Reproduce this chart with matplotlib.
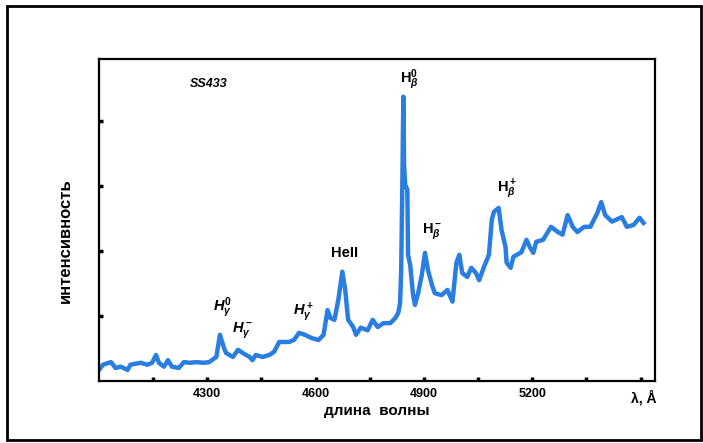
import matplotlib
matplotlib.use("Agg")
import matplotlib.pyplot as plt
from matplotlib.patches import Rectangle

# spectrum of SS433 (arbitrary intensity units)
wavelength = [4000, 4011, 4033, 4046, 4060, 4079, 4087, 4115, 4134, 4147,
              4158, 4166, 4180, 4191, 4202, 4221, 4235, 4251, 4270, 4289,
              4305, 4325, 4335, 4346, 4352, 4371, 4385, 4398, 4417, 4425,
              4434, 4453, 4472, 4485, 4499, 4513, 4526, 4540, 4554, 4570,
              4589, 4608, 4622, 4633, 4641, 4652, 4663, 4674, 4682, 4690,
              4704, 4712, 4725, 4744, 4758, 4772, 4788, 4807, 4821, 4829,
              4834, 4837, 4840, 4843, 4845, 4848, 4854, 4856, 4862, 4870,
              4875, 4884, 4894, 4903, 4911, 4922, 4930, 4949, 4965, 4979,
              4990, 4998, 5006, 5020, 5031, 5044, 5053, 5066, 5080, 5088,
              5094, 5107, 5115, 5126, 5129, 5140, 5148, 5170, 5184, 5194,
              5203, 5211, 5230, 5252, 5271, 5284, 5298, 5312, 5325, 5344,
              5361, 5380, 5391, 5402, 5421, 5448, 5462, 5481, 5497, 5508]
intensity = [0.17, 0.25, 0.29, 0.20, 0.22, 0.17, 0.25, 0.28, 0.25, 0.28,
             0.40, 0.28, 0.22, 0.32, 0.22, 0.20, 0.29, 0.28, 0.29, 0.28,
             0.29, 0.37, 0.71, 0.51, 0.43, 0.37, 0.48, 0.43, 0.37, 0.32,
             0.40, 0.37, 0.40, 0.45, 0.60, 0.60, 0.60, 0.63, 0.74, 0.71,
             0.66, 0.63, 0.71, 1.09, 0.97, 0.94, 1.25, 1.68, 1.40, 0.94,
             0.83, 0.71, 0.82, 0.78, 0.94, 0.83, 0.89, 0.89, 0.97, 1.05,
             1.20, 1.71, 2.94, 4.37, 3.32, 3.02, 2.94, 1.94, 1.78, 1.32,
             1.17, 1.35, 1.63, 1.97, 1.71, 1.48, 1.35, 1.32, 1.40, 1.22,
             1.82, 1.94, 1.66, 1.60, 1.74, 1.66, 1.55, 1.75, 1.94, 2.48,
             2.60, 2.66, 2.32, 2.06, 1.82, 1.74, 1.91, 1.98, 2.17, 2.05,
             1.97, 2.14, 2.17, 2.37, 2.29, 2.25, 2.55, 2.37, 2.29, 2.37,
             2.37, 2.58, 2.75, 2.55, 2.45, 2.52, 2.37, 2.40, 2.51, 2.43]

tick_positions = [4150, 4300, 4450, 4600, 4750, 4900, 5050, 5200, 5350, 5500]
tick_labels = ["", "4300", "", "4600", "", "4900", "", "5200", "", ""]
ytick_positions = [1, 2, 3, 4]

line_names = [r"$H_\gamma^0$", r"$H_\gamma^-$", r"$H_\gamma^+$", "HeII",
              r"$\mathrm{H}_\beta^0$", r"$\mathrm{H}_\beta^-$", r"$\mathrm{H}_\beta^+$"]
line_x = [4343, 4398, 4565, 4679, 4859, 4922, 5129]
line_y = [1.12, 0.78, 1.06, 1.97, 4.63, 2.31, 2.94]

fig = plt.figure(figsize=(7.03, 4.43), dpi=100)
plt.rcParams['font.family'] = ['Liberation Sans', 'DejaVu Sans']
plt.rcParams['mathtext.fontset'] = 'custom'
plt.rcParams['mathtext.rm'] = 'Liberation Sans:bold'
plt.rcParams['mathtext.it'] = 'Liberation Sans:bold:italic'

# outer frame
fig.patches.append(Rectangle((7 / 703, 3 / 443), 694 / 703, 434 / 443,
                             transform=fig.transFigure, fill=False,
                             edgecolor="black", linewidth=2))

ax = fig.add_axes([99 / 703, 62 / 443, 556 / 703, 322 / 443])
ax.plot(wavelength, intensity, color="#2a7de1", linewidth=3.2,
        solid_joinstyle="round")

ax.set_xlim(4000, 5540)
ax.set_ylim(0, 4.95)
ax.set_xticks(tick_positions)
ax.set_xticklabels(tick_labels, fontsize=9, fontweight="bold")
ax.set_yticks(ytick_positions)
ax.set_yticklabels([])
ax.tick_params(direction="in", length=3, width=2.5, pad=5)
for s in ax.spines.values():
    s.set_linewidth(1.6)

ax.text(5508, -0.25, "λ, Å", fontsize=10, fontweight="bold",
        ha="center", va="center")
ax.set_xlabel("длина  волны", fontsize=11, fontweight="bold", labelpad=3)
fig.text(65 / 703, 1 - 241 / 443, "интенсивность", rotation=90,
         fontsize=12, fontweight="bold", ha="center", va="center")

ax.text(4305, 4.57, "SS433", fontsize=9, fontweight="bold",
        fontstyle="italic", ha="center", va="center")
for name, x, y in zip(line_names, line_x, line_y):
    ax.text(x, y, name, fontsize=10.5, fontweight="bold",
            ha="center", va="center")

fig.savefig("out.png", dpi=100)
